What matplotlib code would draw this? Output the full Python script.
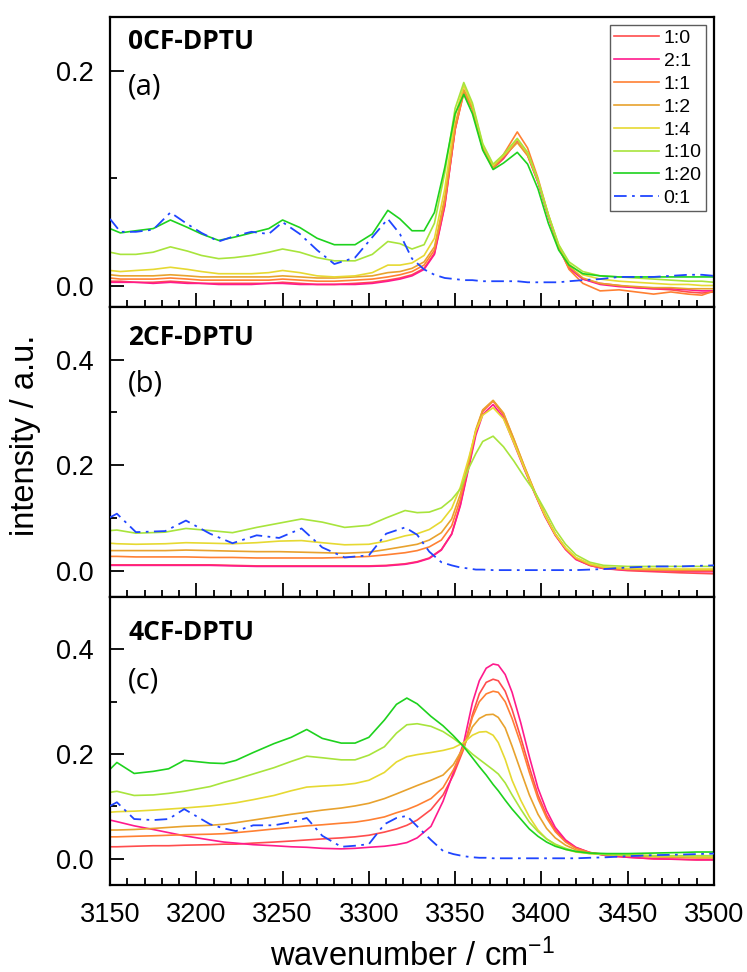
import matplotlib
matplotlib.use('Agg')
import matplotlib.pyplot as plt
from matplotlib.ticker import MultipleLocator

plt.rcParams['font.family'] = ['Liberation Sans', 'DejaVu Sans']
plt.rcParams['mathtext.default'] = 'regular'

labels = ['1:0', '2:1', '1:1', '1:2', '1:4', '1:10', '1:20', '0:1']
colors = ['#ff4d4d', '#ff1a8c', '#ff8033', '#e8a22e', '#e6d932', '#a8e43c', '#1ed21e', '#1f45ff']

# (a) 0CF-DPTU
wn_a = [3150, 3156, 3165, 3175, 3185, 3195, 3203, 3213, 3222, 3232, 3242, 3250, 3260, 3270, 3280,
        3292, 3302, 3311, 3318, 3325, 3332, 3338, 3344, 3350, 3355, 3360, 3366, 3372, 3378, 3386,
        3392, 3398, 3404, 3410, 3416, 3424, 3434, 3445, 3455, 3465, 3475, 3485, 3493, 3500]
a_10 = [0.004, 0.004, 0.003, 0.003, 0.004, 0.003, 0.002, 0.002, 0.002, 0.002, 0.002, 0.003, 0.002, 0.001, 0.001,
        0.002, 0.003, 0.005, 0.007, 0.010, 0.016, 0.030, 0.075, 0.145, 0.180, 0.165, 0.128, 0.109, 0.118, 0.135,
        0.122, 0.097, 0.065, 0.036, 0.017, 0.006, 0.002, 0.000, -0.002, -0.003, -0.004, -0.006, -0.007, -0.006]
a_21 = [0.003, 0.003, 0.003, 0.002, 0.003, 0.002, 0.002, 0.001, 0.001, 0.001, 0.002, 0.002, 0.001, 0.001, 0.001,
        0.001, 0.002, 0.004, 0.006, 0.009, 0.015, 0.029, 0.074, 0.146, 0.182, 0.167, 0.129, 0.110, 0.119, 0.134,
        0.121, 0.096, 0.064, 0.035, 0.016, 0.006, 0.001, -0.001, -0.002, -0.003, -0.003, -0.004, -0.005, -0.005]
a_11 = [0.007, 0.006, 0.006, 0.006, 0.007, 0.006, 0.005, 0.005, 0.005, 0.005, 0.005, 0.006, 0.005, 0.004, 0.004,
        0.005, 0.006, 0.008, 0.010, 0.013, 0.019, 0.033, 0.078, 0.146, 0.179, 0.164, 0.127, 0.109, 0.122, 0.143,
        0.128, 0.100, 0.066, 0.036, 0.015, 0.002, -0.005, -0.004, -0.006, -0.008, -0.006, -0.008, -0.009, -0.005]
a_12 = [0.010, 0.009, 0.009, 0.009, 0.010, 0.009, 0.008, 0.008, 0.008, 0.008, 0.008, 0.009, 0.008, 0.007, 0.007,
        0.008, 0.009, 0.012, 0.013, 0.016, 0.022, 0.036, 0.082, 0.150, 0.182, 0.166, 0.129, 0.110, 0.120, 0.133,
        0.121, 0.097, 0.065, 0.036, 0.018, 0.007, 0.002, 0.000, -0.001, -0.002, -0.002, -0.003, -0.003, -0.003]
a_14 = [0.014, 0.013, 0.014, 0.015, 0.017, 0.015, 0.013, 0.011, 0.011, 0.011, 0.012, 0.014, 0.012, 0.009, 0.008,
        0.009, 0.012, 0.019, 0.019, 0.021, 0.028, 0.044, 0.090, 0.158, 0.186, 0.168, 0.131, 0.112, 0.121, 0.136,
        0.123, 0.098, 0.066, 0.038, 0.020, 0.010, 0.006, 0.004, 0.003, 0.002, 0.001, 0.001, 0.000, 0.000]
a_110 = [0.031, 0.029, 0.029, 0.031, 0.036, 0.032, 0.028, 0.025, 0.026, 0.028, 0.031, 0.034, 0.031, 0.026, 0.023,
         0.023, 0.029, 0.041, 0.039, 0.034, 0.038, 0.058, 0.105, 0.165, 0.189, 0.170, 0.132, 0.113, 0.122, 0.137,
         0.124, 0.098, 0.066, 0.038, 0.022, 0.013, 0.009, 0.008, 0.007, 0.006, 0.005, 0.004, 0.004, 0.003]
a_120 = [0.053, 0.049, 0.051, 0.053, 0.061, 0.054, 0.048, 0.042, 0.045, 0.049, 0.053, 0.061, 0.054, 0.044, 0.038,
         0.038, 0.048, 0.070, 0.062, 0.051, 0.051, 0.068, 0.110, 0.160, 0.178, 0.160, 0.126, 0.108, 0.114, 0.124,
         0.113, 0.090, 0.058, 0.033, 0.019, 0.011, 0.009, 0.008, 0.008, 0.008, 0.008, 0.008, 0.008, 0.008]
a_01 = [0.062, 0.050, 0.050, 0.052, 0.068, 0.057, 0.049, 0.041, 0.046, 0.050, 0.048, 0.059, 0.048, 0.033, 0.020,
        0.026, 0.045, 0.062, 0.048, 0.025, 0.015, 0.010, 0.007, 0.006, 0.005, 0.005, 0.004, 0.004, 0.004, 0.004,
        0.003, 0.003, 0.003, 0.003, 0.004, 0.005, 0.006, 0.008, 0.008, 0.008, 0.009, 0.010, 0.010, 0.009]

# (b) 2CF-DPTU
wn_b = [3150, 3154, 3165, 3182, 3194, 3208, 3221, 3235, 3248, 3261, 3273, 3286, 3300, 3310, 3321,
        3328, 3335, 3342, 3348, 3353, 3358, 3362, 3366, 3372, 3378, 3384, 3390, 3396, 3402, 3408,
        3414, 3420, 3428, 3436, 3450, 3465, 3480, 3490, 3500]
b_10 = [0.011, 0.011, 0.011, 0.011, 0.011, 0.011, 0.010, 0.009, 0.009, 0.009, 0.009, 0.009, 0.009, 0.010, 0.013,
        0.017, 0.024, 0.040, 0.070, 0.125, 0.200, 0.262, 0.302, 0.322, 0.295, 0.245, 0.195, 0.148, 0.104, 0.068,
        0.041, 0.022, 0.010, 0.004, 0.000, -0.002, -0.004, -0.005, -0.006]
b_21 = [0.010, 0.010, 0.010, 0.010, 0.010, 0.010, 0.009, 0.008, 0.008, 0.008, 0.008, 0.008, 0.008, 0.009, 0.012,
        0.016, 0.023, 0.039, 0.069, 0.123, 0.197, 0.257, 0.296, 0.315, 0.290, 0.242, 0.193, 0.147, 0.103, 0.067,
        0.040, 0.021, 0.010, 0.004, 0.001, 0.000, -0.001, -0.002, -0.002]
b_11 = [0.027, 0.027, 0.026, 0.026, 0.026, 0.025, 0.025, 0.024, 0.024, 0.024, 0.024, 0.025, 0.027, 0.030, 0.034,
        0.038, 0.045, 0.058, 0.085, 0.135, 0.205, 0.265, 0.304, 0.322, 0.298, 0.249, 0.198, 0.150, 0.106, 0.069,
        0.042, 0.023, 0.011, 0.005, 0.002, 0.001, 0.000, 0.000, 0.000]
b_12 = [0.038, 0.038, 0.038, 0.038, 0.039, 0.038, 0.037, 0.036, 0.036, 0.035, 0.034, 0.033, 0.035, 0.040, 0.046,
        0.050, 0.058, 0.072, 0.098, 0.145, 0.210, 0.268, 0.305, 0.323, 0.299, 0.250, 0.199, 0.151, 0.107, 0.070,
        0.043, 0.024, 0.012, 0.006, 0.003, 0.002, 0.002, 0.002, 0.002]
b_14 = [0.052, 0.051, 0.050, 0.051, 0.053, 0.052, 0.051, 0.053, 0.056, 0.057, 0.053, 0.049, 0.050, 0.056, 0.066,
        0.070, 0.078, 0.093, 0.118, 0.158, 0.215, 0.265, 0.295, 0.309, 0.288, 0.243, 0.195, 0.148, 0.105, 0.069,
        0.043, 0.025, 0.013, 0.007, 0.004, 0.004, 0.003, 0.003, 0.003]
b_110 = [0.076, 0.077, 0.071, 0.073, 0.080, 0.076, 0.072, 0.082, 0.090, 0.098, 0.092, 0.082, 0.086, 0.100, 0.114,
         0.110, 0.111, 0.119, 0.135, 0.155, 0.195, 0.222, 0.245, 0.255, 0.235, 0.208, 0.178, 0.150, 0.115, 0.078,
         0.050, 0.030, 0.016, 0.010, 0.008, 0.008, 0.008, 0.008, 0.008]
b_01 = [0.101, 0.108, 0.073, 0.075, 0.095, 0.070, 0.052, 0.067, 0.062, 0.080, 0.044, 0.025, 0.029, 0.070, 0.082,
        0.068, 0.036, 0.016, 0.010, 0.006, 0.004, 0.002, 0.002, 0.001, 0.001, 0.001, 0.001, 0.001, 0.001, 0.001,
        0.001, 0.001, 0.002, 0.003, 0.006, 0.008, 0.008, 0.009, 0.010]

# (c) 4CF-DPTU
wn_c = [3150, 3154, 3164, 3175, 3184, 3193, 3208, 3216, 3223, 3233, 3245, 3255, 3264, 3273, 3284,
        3292, 3300, 3309, 3316, 3322, 3328, 3336, 3343, 3349, 3355, 3360, 3364, 3368, 3372, 3375,
        3379, 3383, 3388, 3393, 3398, 3403, 3408, 3414, 3420, 3428, 3438, 3450, 3465, 3480, 3490, 3500]
c_10 = [0.023, 0.023, 0.024, 0.025, 0.025, 0.026, 0.027, 0.028, 0.028, 0.030, 0.032, 0.034, 0.036, 0.038, 0.040,
        0.042, 0.045, 0.051, 0.057, 0.064, 0.074, 0.094, 0.122, 0.160, 0.210, 0.275, 0.315, 0.337, 0.343, 0.340,
        0.320, 0.285, 0.232, 0.175, 0.122, 0.083, 0.055, 0.034, 0.021, 0.012, 0.006, 0.003, 0.000, -0.001, -0.002, -0.002]
c_21 = [0.074, 0.071, 0.063, 0.056, 0.050, 0.044, 0.036, 0.032, 0.030, 0.027, 0.025, 0.023, 0.022, 0.020, 0.019,
        0.020, 0.022, 0.024, 0.027, 0.031, 0.040, 0.062, 0.110, 0.165, 0.222, 0.298, 0.340, 0.364, 0.372, 0.370,
        0.352, 0.318, 0.260, 0.195, 0.135, 0.092, 0.060, 0.036, 0.022, 0.012, 0.006, 0.003, 0.000, -0.001, -0.002, -0.002]
c_11 = [0.042, 0.042, 0.043, 0.044, 0.045, 0.046, 0.047, 0.048, 0.050, 0.053, 0.057, 0.060, 0.063, 0.065, 0.068,
        0.070, 0.074, 0.080, 0.088, 0.094, 0.102, 0.115, 0.136, 0.170, 0.212, 0.270, 0.300, 0.315, 0.320, 0.318,
        0.300, 0.268, 0.220, 0.165, 0.115, 0.078, 0.052, 0.032, 0.020, 0.012, 0.008, 0.006, 0.004, 0.003, 0.002, 0.002]
c_12 = [0.055, 0.055, 0.056, 0.058, 0.060, 0.062, 0.064, 0.066, 0.069, 0.074, 0.080, 0.085, 0.089, 0.093, 0.097,
        0.101, 0.106, 0.115, 0.124, 0.132, 0.140, 0.150, 0.160, 0.180, 0.214, 0.252, 0.268, 0.275, 0.276, 0.270,
        0.250, 0.215, 0.168, 0.122, 0.085, 0.058, 0.040, 0.026, 0.017, 0.011, 0.008, 0.006, 0.004, 0.003, 0.002, 0.002]
c_14 = [0.089, 0.090, 0.091, 0.093, 0.095, 0.097, 0.101, 0.104, 0.107, 0.113, 0.121, 0.130, 0.137, 0.139, 0.141,
        0.144, 0.150, 0.165, 0.185, 0.195, 0.199, 0.203, 0.207, 0.212, 0.222, 0.236, 0.242, 0.243, 0.236, 0.222,
        0.190, 0.150, 0.112, 0.080, 0.055, 0.038, 0.027, 0.018, 0.013, 0.010, 0.009, 0.008, 0.006, 0.005, 0.004, 0.004]
c_110 = [0.127, 0.129, 0.121, 0.122, 0.125, 0.129, 0.138, 0.146, 0.152, 0.162, 0.174, 0.186, 0.196, 0.193, 0.189,
         0.189, 0.198, 0.214, 0.240, 0.256, 0.258, 0.253, 0.243, 0.230, 0.215, 0.200, 0.190, 0.180, 0.170, 0.162,
         0.145, 0.122, 0.095, 0.070, 0.052, 0.038, 0.028, 0.020, 0.014, 0.010, 0.008, 0.007, 0.006, 0.006, 0.006, 0.006]
c_120 = [0.171, 0.184, 0.163, 0.167, 0.172, 0.188, 0.183, 0.182, 0.188, 0.203, 0.220, 0.232, 0.247, 0.230, 0.221,
         0.221, 0.232, 0.265, 0.295, 0.307, 0.296, 0.272, 0.254, 0.235, 0.214, 0.193, 0.176, 0.160, 0.142, 0.130,
         0.112, 0.095, 0.076, 0.057, 0.043, 0.032, 0.024, 0.018, 0.014, 0.011, 0.010, 0.010, 0.011, 0.012, 0.013, 0.013]
c_01 = [0.101, 0.108, 0.076, 0.074, 0.076, 0.095, 0.066, 0.058, 0.053, 0.064, 0.064, 0.070, 0.078, 0.044, 0.023,
        0.025, 0.028, 0.066, 0.078, 0.082, 0.062, 0.036, 0.015, 0.009, 0.005, 0.003, 0.002, 0.002, 0.001, 0.001,
        0.001, 0.001, 0.001, 0.001, 0.001, 0.001, 0.001, 0.001, 0.001, 0.002, 0.003, 0.005, 0.007, 0.008, 0.009, 0.010]

panels = [
    (wn_a, [a_10, a_21, a_11, a_12, a_14, a_110, a_120, a_01], '0CF-DPTU', '(a)', (-0.02, 0.25)),
    (wn_b, [b_10, b_21, b_11, b_12, b_14, b_110, None, b_01], '2CF-DPTU', '(b)', (-0.05, 0.5)),
    (wn_c, [c_10, c_21, c_11, c_12, c_14, c_110, c_120, c_01], '4CF-DPTU', '(c)', (-0.05, 0.5)),
]
# baseline positions (axes fraction) of the two labels in each panel
name_y = [0.890, 0.869, 0.851]
tag_y = [0.734, 0.710, 0.681]

fig = plt.figure(figsize=(7.47, 9.72), dpi=100)
left, width = 110 / 747, 604 / 747
tops = [17, 307, 597]
bottoms = [307, 597, 885]
axes = []
for i in range(3):
    b = 1 - bottoms[i] / 972
    h = (bottoms[i] - tops[i]) / 972
    axes.append(fig.add_axes([left, b, width, h]))

for i, (ax, (wn, series, name, tag, ylim)) in enumerate(zip(axes, panels)):
    for s, lab, col in zip(series, labels, colors):
        if s is None:
            ax.plot([], [], color=col, lw=1.2, label=lab)
            continue
        if lab == '0:1':
            ax.plot(wn, s, color=col, lw=1.3, ls=(0, (7, 3, 1.5, 3)), label=lab, zorder=3)
        else:
            ax.plot(wn, s, color=col, lw=1.2, label=lab)
    ax.set_xlim(3150, 3500)
    ax.set_ylim(*ylim)
    ax.xaxis.set_major_locator(MultipleLocator(50))
    ax.xaxis.set_minor_locator(MultipleLocator(10))
    ax.yaxis.set_major_locator(MultipleLocator(0.2))
    ax.yaxis.set_minor_locator(MultipleLocator(0.1))
    ax.tick_params(which='both', direction='in', width=1.3, labelsize=19.5, top=False, right=False)
    ax.tick_params(which='major', length=10, pad=12)
    ax.tick_params(which='minor', length=5)
    ax.yaxis.set_major_formatter(plt.FormatStrFormatter('%.1f'))
    for sp in ax.spines.values():
        sp.set_linewidth(1.6)
    if i < 2:
        ax.tick_params(labelbottom=False)
    ax.text(0.030, name_y[i], name, transform=ax.transAxes, family='Open Sans',
            fontweight='bold', fontsize=19, va='baseline', ha='left')
    ax.text(0.030, tag_y[i], tag, transform=ax.transAxes, family='Open Sans',
            fontsize=21, va='baseline', ha='left')

leg = axes[0].legend(loc='upper right', bbox_to_anchor=(0.993, 0.985), fontsize=14, frameon=True,
                     fancybox=False, edgecolor='#333333', handlelength=2.3, handletextpad=0.25,
                     labelspacing=0.27, borderpad=0.22, borderaxespad=0.2)
leg.get_frame().set_linewidth(1.0)

axes[2].set_xlabel('wavenumber / cm$^{-1}$', fontsize=23.5, labelpad=8)
fig.text(0.034, 1 - 435 / 972, 'intensity / a.u.', rotation=90, fontsize=23.5,
         ha='center', va='center')

plt.savefig('out.png', dpi=100)
